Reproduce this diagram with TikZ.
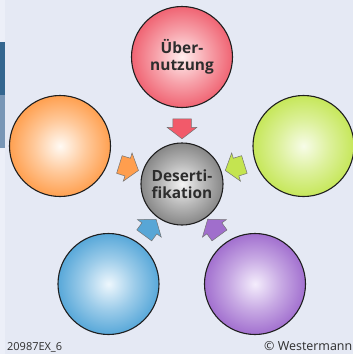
\documentclass[tikz,border=0pt]{standalone}
\usepackage{fontspec}
\setsansfont{Open Sans}
\newfontfamily\footfont{Open Sans}
\usetikzlibrary{shapes.arrows}

\definecolor{bg}{RGB}{229,233,244}
\definecolor{striplight}{RGB}{236,239,248}
\definecolor{stripdark}{RGB}{52,102,143}
\definecolor{stripmid}{RGB}{120,150,182}
\definecolor{txt}{RGB}{45,45,45}
\definecolor{redout}{RGB}{240,100,115}
\definecolor{redin}{RGB}{255,238,238}
\definecolor{orout}{RGB}{255,160,80}
\definecolor{orin}{RGB}{255,250,244}
\definecolor{grout}{RGB}{198,231,90}
\definecolor{grin}{RGB}{247,252,232}
\definecolor{blout}{RGB}{88,168,217}
\definecolor{blin}{RGB}{238,247,253}
\definecolor{puout}{RGB}{162,112,207}
\definecolor{puin}{RGB}{244,237,252}
\definecolor{gyout}{RGB}{135,135,135}
\definecolor{gyin}{RGB}{244,244,244}
\definecolor{redarrow}{RGB}{242,90,106}
\definecolor{orarrow}{RGB}{255,158,78}
\definecolor{grarrow}{RGB}{196,228,80}
\definecolor{blarrow}{RGB}{88,166,214}
\definecolor{puarrow}{RGB}{160,110,204}

% radial ball shading: light centre, soft rise to the rim colour
\newcommand\declareball[3]{%
  \colorlet{#1mid}{#2!45!#3}%
  \pgfdeclareradialshading{#1}{\pgfpoint{0bp}{0bp}}{%
    color(0bp)=(#2); color(13bp)=(#1mid); color(25bp)=(#3); color(50bp)=(#3)}}
\declareball{redball}{redin}{redout}
\declareball{orball}{orin}{orout}
\declareball{grball}{grin}{grout}
\declareball{blball}{blin}{blout}
\declareball{puball}{puin}{puout}
\declareball{gyball}{gyin}{gyout}

\tikzset{
  ball/.style={circle, draw=black!88, line width=1.1bp, minimum size=101bp,
    inner sep=0pt, align=center, text=txt,
    font=\sffamily\bfseries\fontsize{15.5}{17}\selectfont},
  blockarrow/.style={single arrow, draw=black!55, line width=0.5bp,
    minimum height=20bp, inner xsep=0pt, inner ysep=9bp,
    single arrow head extend=5.5bp, single arrow tip angle=105},
  footer/.style={inner sep=0pt, text=txt}
}

\begin{document}
\begin{tikzpicture}[x=1bp, y=-1bp]
  \useasboundingbox (0,0) rectangle (353,354);
  % background and side strip
  \fill[bg] (0,0) rectangle (353,354);
  \fill[striplight] (0,0) rectangle (5,354);
  \fill[stripdark] (0,42) rectangle (5,95);
  \fill[stripmid] (0,95) rectangle (5,148);

  % the five cause circles and the central one
  \node[ball, shading=redball] (nutz) at (182,57) {Über-\\nutzung};
  \node[ball, shading=orball] (orange) at (60,146) {};
  \node[ball, shading=grball] (green) at (303.5,146) {};
  \node[ball, shading=blball] (blue) at (108.5,284) {};
  \node[ball, shading=puball] (purple) at (255,284) {};
  \node[ball, minimum size=82bp, shading=gyball] (desert) at (182,184) {Deserti-\\fikation};

  % block arrows pointing to the centre
  \path[allow upside down] (nutz) -- (desert) node[midway, sloped, blockarrow, fill=redarrow] {};
  \path[allow upside down] (orange) -- (desert) node[midway, sloped, blockarrow, fill=orarrow] {};
  \path[allow upside down] (green) -- (desert) node[midway, sloped, blockarrow, fill=grarrow] {};
  \path[allow upside down] (blue) -- (desert) node[midway, sloped, blockarrow, fill=blarrow] {};
  \path[allow upside down] (purple) -- (desert) node[midway, sloped, blockarrow, fill=puarrow] {};

  % footer
  \node[footer, anchor=base west, font=\footfont\fontsize{11}{12}\selectfont] (code) at (7,350.5) {20987EX\_6};
  \node[footer, anchor=base west, font=\footfont\fontsize{12.5}{14}\selectfont] (copy) at (264,350.5) {© Westermann};
\end{tikzpicture}
\end{document}
